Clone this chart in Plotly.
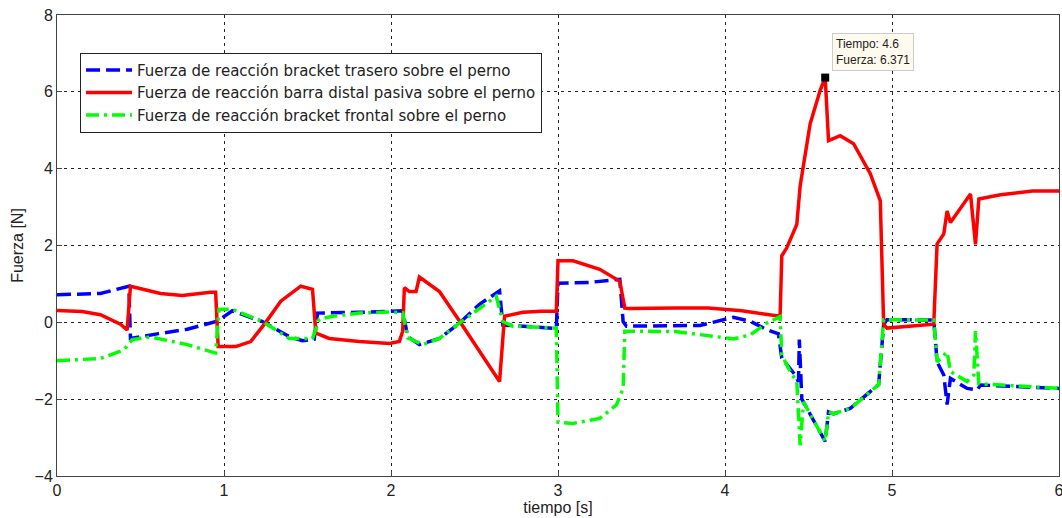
import plotly.graph_objects as go

# Series: Fuerza de reacción bracket trasero sobre el perno (blue)
t_trasero = [0, 0.26, 0.43, 0.44, 0.6, 0.78, 0.96, 1.05, 1.23, 1.39, 1.47, 1.54, 1.56, 1.65, 1.81,
             2.07, 2.1, 2.17, 2.29, 2.41, 2.53, 2.65, 2.67, 2.79, 2.99, 3.0, 3.19, 3.37, 3.39, 3.41,
             3.69, 3.85, 4.05, 4.15, 4.25, 4.32, 4.34, 4.42, 4.44, 4.445, 4.46, 4.49, 4.6, 4.62,
             4.65, 4.75, 4.85, 4.92, 4.95, 4.97, 5.25, 5.27, 5.31, 5.33, 5.35, 5.45, 5.51, 5.53, 6.0]
f_trasero = [0.72, 0.75, 0.94, -0.42, -0.3, -0.18, 0.03, 0.3, 0.02, -0.37, -0.48, -0.44, 0.24, 0.24, 0.26,
             0.3, -0.37, -0.58, -0.42, -0.02, 0.47, 0.82, -0.07, -0.1, -0.16, 1.02, 1.04, 1.12, 0.02, -0.1,
             -0.1, -0.08, 0.13, 0.03, -0.19, -0.3, -0.93, -1.37, -1.55, -0.45, -2.0, -2.24, -3.1, -2.33,
             -2.38, -2.24, -1.88, -1.62, -0.06, 0.07, 0.06, -1.03, -1.37, -2.14, -1.46, -1.72, -1.76, -1.63, -1.72]

# Series: Fuerza de reacción barra distal pasiva sobre el perno (red)
t_distal = [0, 0.15, 0.26, 0.38, 0.42, 0.44, 0.62, 0.75, 0.92, 0.95, 0.965, 1.07, 1.16, 1.25, 1.34,
            1.46, 1.53, 1.55, 1.63, 1.81, 1.99, 2.05, 2.07, 2.08, 2.11, 2.15, 2.17, 2.29, 2.40, 2.53,
            2.65, 2.68, 2.79, 2.9, 2.99, 3.0, 3.09, 3.25, 3.37, 3.40, 3.43, 3.7, 3.9, 4.1, 4.2, 4.33,
            4.34, 4.37, 4.43, 4.45, 4.51, 4.57, 4.6, 4.62, 4.69, 4.77, 4.87, 4.93, 4.95, 4.97, 5.25,
            5.27, 5.31, 5.33, 5.35, 5.47, 5.50, 5.52, 5.65, 5.84, 6.0]
f_distal = [0.31, 0.28, 0.2, -0.05, -0.2, 0.94, 0.75, 0.7, 0.78, 0.78, -0.63, -0.63, -0.5, 0.0, 0.55,
            0.94, 0.86, -0.28, -0.42, -0.5, -0.55, -0.5, -0.23, 0.9, 0.8, 0.8, 1.18, 0.8, 0.1, -0.76,
            -1.54, 0.16, 0.26, 0.29, 0.29, 1.6, 1.6, 1.38, 1.07, 0.37, 0.36, 0.37, 0.37, 0.3, 0.24, 0.16,
            1.73, 1.94, 2.55, 3.55, 5.17, 6.04, 6.371, 4.73, 4.86, 4.65, 3.87, 3.16, -0.05, -0.15, -0.05,
            2.04, 2.3, 2.9, 2.6, 3.34, 2.03, 3.21, 3.32, 3.42, 3.42]

# Series: Fuerza de reacción bracket frontal sobre el perno (green)
t_frontal = [0, 0.26, 0.4, 0.45, 0.56, 0.78, 0.95, 0.97, 1.05, 1.23, 1.39, 1.53, 1.57, 1.65, 1.81,
             1.99, 2.07, 2.1, 2.19, 2.29, 2.41, 2.53, 2.63, 2.67, 2.73, 2.99, 3.0, 3.09, 3.25, 3.35,
             3.39, 3.40, 3.7, 3.85, 4.05, 4.15, 4.25, 4.33, 4.34, 4.39, 4.43, 4.45, 4.47, 4.6, 4.62,
             4.65, 4.75, 4.85, 4.92, 4.95, 5.25, 5.27, 5.33, 5.35, 5.45, 5.49, 5.50, 5.52, 5.65, 6.0]
f_frontal = [-1.0, -0.94, -0.72, -0.45, -0.38, -0.58, -0.8, 0.34, 0.34, 0.02, -0.42, -0.42, 0.08, 0.16, 0.24,
             0.27, 0.25, -0.4, -0.58, -0.42, -0.02, 0.37, 0.68, 0.02, -0.1, -0.15, -2.6, -2.63, -2.5, -2.15,
             -1.72, -0.23, -0.24, -0.32, -0.43, -0.33, -0.02, 0.15, -0.85, -1.28, -1.54, -3.2, -2.07, -3.1, -2.33,
             -2.38, -2.24, -1.88, -1.62, 0.07, 0.06, -1.03, -0.77, -1.28, -1.54, -1.37, -0.23, -1.6, -1.63, -1.72]

tip_t = [4.6]
tip_f = [6.371]

x_ticks = [0, 1, 2, 3, 4, 5, 6]
y_ticks = [-4, -2, 0, 2, 4, 6, 8]

FONT = "Liberation Sans, Arial, sans-serif"
TXT = "#222222"

fig = go.Figure()
fig.add_trace(go.Scatter(x=t_trasero, y=f_trasero, mode="lines",
                         name="Fuerza de reacción bracket trasero sobre el perno",
                         line=dict(color="#0000FF", width=3.5, dash="14px,6px")))
fig.add_trace(go.Scatter(x=t_distal, y=f_distal, mode="lines",
                         name="Fuerza de reacción barra distal pasiva sobre el perno",
                         line=dict(color="#FF0000", width=3.5)))
fig.add_trace(go.Scatter(x=t_frontal, y=f_frontal, mode="lines",
                         name="Fuerza de reacción bracket frontal sobre el perno",
                         line=dict(color="#00FF00", width=3.5, dash="13px,5px,3px,5px")))
fig.add_trace(go.Scatter(x=tip_t, y=tip_f, mode="markers", showlegend=False,
                         marker=dict(symbol="square", size=8, color="black")))

fig.add_annotation(x=4.64, y=7.52, xref="x", yref="y", xanchor="left", yanchor="top",
                   text="Tiempo: 4.6<br>Fuerza: 6.371", showarrow=False, align="left",
                   font=dict(family=FONT, size=12, color=TXT),
                   bgcolor="#FFFAEE", bordercolor="#CCCCCC", borderwidth=1, borderpad=3)

axis_common = dict(showline=True, linecolor="#444444", linewidth=1, mirror=True,
                   ticks="inside", ticklen=5, tickcolor="#444444",
                   showgrid=True, gridcolor="#222222", gridwidth=1, griddash="3px,4px",
                   zeroline=False, automargin=False,
                   tickfont=dict(family=FONT, size=16, color=TXT))

fig.update_xaxes(range=[0, 6], tickvals=x_ticks, ticklabeloverflow="allow",
                 title=dict(text="tiempo [s]", font=dict(family=FONT, size=16, color=TXT), standoff=2),
                 **axis_common)
fig.update_yaxes(range=[-4, 8], tickvals=y_ticks,
                 title=dict(text="Fuerza [N]", font=dict(family=FONT, size=16, color=TXT), standoff=6),
                 **axis_common)

fig.update_layout(width=1062, height=518, margin=dict(l=57, r=3, t=15, b=42),
                  plot_bgcolor="white", paper_bgcolor="white",
                  font=dict(family=FONT, size=16, color=TXT),
                  legend=dict(x=0.023, y=0.918, xanchor="left", yanchor="top",
                              bgcolor="white", bordercolor="#222222", borderwidth=1,
                              font=dict(family="DejaVu Sans, sans-serif", size=15, color=TXT),
                              tracegroupgap=0, itemwidth=46))

fig.write_html("out.html", config={"displayModeBar": False},
               post_script="document.body.style.margin='0';document.body.style.overflow='hidden';")
